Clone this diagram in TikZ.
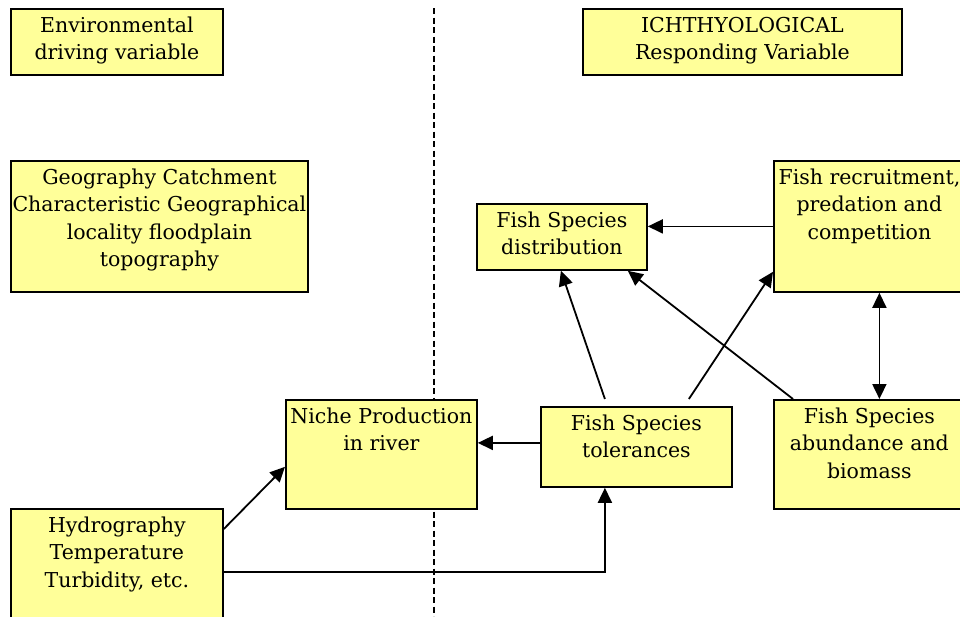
\documentclass[tikz,border=0pt]{standalone}
\usepackage{fontspec}
\setmainfont{DejaVu Serif}
\usetikzlibrary{arrows.meta,calc}
\definecolor{boxyellow}{RGB}{255,255,153}
\newcommand{\bx}[3]{\parbox[c][#2][t]{#1}{\fontsize{20.5pt}{27.5pt}\selectfont\lineskiplimit=-20pt #3}}
\newcommand{\tln}[1]{\makebox[\hsize][c]{#1}}
\newcommand{\fst}{\rule{0pt}{23.5pt}}
\begin{document}
\begin{tikzpicture}[x=1pt,y=-1pt,
  box/.style={draw=black, fill=boxyellow, line width=1.8pt, inner sep=0pt, anchor=north west},
  conn/.style={line width=1.8pt, -{Triangle[length=15pt,width=14pt]}},
  biconn/.style={line width=1.8pt, {Triangle[length=15pt,width=14pt]}-{Triangle[length=15pt,width=14pt]}},
  divider/.style={line width=1.6pt, dash pattern=on 6pt off 3.5pt}]
\useasboundingbox (0,0) rectangle (960,616);
\fill[white] (0,0) rectangle (960,616);
\draw[divider] (434,8) -- (434,616);

\node[box] (env) at (10,8) {\bx{212pt}{66pt}{\tln{\fst Environmental}\\\tln{driving variable}}};
\node[box] (geo) at (10,160) {\bx{297pt}{131pt}{\tln{\fst Geography Catchment}\\\tln{Characteristic Geographical}\\\tln{locality floodplain}\\\tln{topography}}};
\node[box] (ich) at (582,8) {\bx{319pt}{66pt}{\tln{\fst ICHTHYOLOGICAL}\\\tln{Responding Variable}}};
\node[box] (dist) at (476,203) {\bx{170pt}{66pt}{\tln{\fst Fish Species}\\\tln{distribution}}};
\node[box] (recr) at (773,160) {\bx{191pt}{131pt}{\tln{\fst Fish recruitment,}\\\tln{predation and}\\\tln{competition}}};
\node[box] (niche) at (285,399) {\bx{191pt}{109pt}{\tln{\fst Niche Production}\\\tln{in river}}};
\node[box] (tol) at (540,406) {\bx{191pt}{80pt}{\tln{\fst Fish Species}\\\tln{tolerances}}};
\node[box] (abund) at (773,399) {\bx{191pt}{109pt}{\tln{\fst Fish Species}\\\tln{abundance and}\\\tln{biomass}}};
\node[box] (hydro) at (10,508) {\bx{212pt}{120pt}{\tln{\fst Hydrography}\\\tln{Temperature}\\\tln{Turbidity, etc.}}};

\draw[conn] (recr.west) -- (recr.west -| dist.east);
\draw[conn] ([xshift=-31.5pt,yshift=7pt]tol.north) -- ([xshift=-1pt]dist.south);
\draw[conn] ([xshift=52.5pt,yshift=7pt]tol.north) -- ([yshift=21pt]recr.south west);
\draw[conn] ([xshift=20pt]abund.north west) -- ([xshift=-20pt]dist.south east);
\draw[biconn] ([xshift=10pt]recr.south) -- ([xshift=10pt]abund.north);
\draw[conn] ([yshift=4pt]tol.west) -- ([yshift=4pt]tol.west -| niche.east);
\draw[conn] ([yshift=-21pt]hydro.north east) -- ([yshift=43pt]niche.south west);
\draw[conn] ([yshift=-64pt]hydro.north east) -| ([xshift=-31.5pt]tol.south);
\end{tikzpicture}
\end{document}
